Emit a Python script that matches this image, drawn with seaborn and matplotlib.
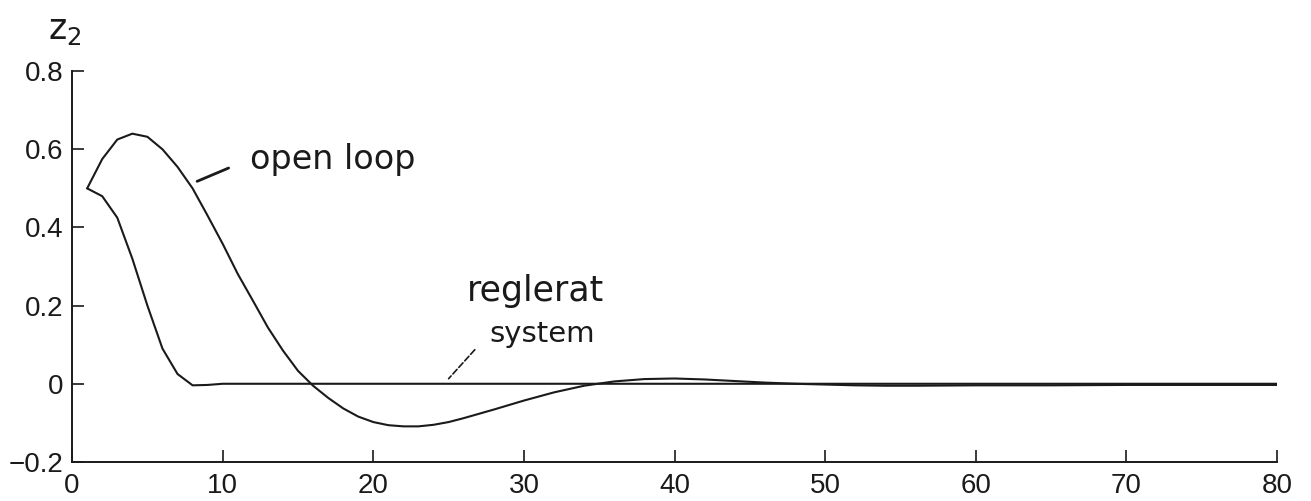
import numpy as np
import matplotlib
matplotlib.use("Agg")
import matplotlib.pyplot as plt
import seaborn as sns
import pandas as pd

#---values
t_open = [1, 2, 3, 4, 5, 6, 7, 8, 9, 10, 11, 12, 13, 14, 15, 16, 17, 18, 19, 20,
          21, 22, 23, 24, 25, 26, 28, 30, 32, 34, 36, 38, 40, 42, 44, 46, 48, 50,
          52, 54, 56, 60, 65, 70, 75, 80]
z_open = [0.5, 0.575, 0.625, 0.64, 0.632, 0.6, 0.555, 0.5, 0.43, 0.358, 0.281,
          0.213, 0.144, 0.085, 0.033, -0.005, -0.036, -0.063, -0.084, -0.098,
          -0.106, -0.109, -0.109, -0.105, -0.098, -0.088, -0.066, -0.043, -0.022,
          -0.005, 0.006, 0.012, 0.0135, 0.011, 0.007, 0.003, 0.0, -0.002, -0.004,
          -0.005, -0.005, -0.004, -0.004, -0.003, -0.003, -0.003]

t_closed = [1, 2, 3, 4, 5, 6, 7, 8, 9, 10, 80]
z_closed = [0.5, 0.48, 0.425, 0.32, 0.2, 0.09, 0.025, -0.004, -0.003, 0.0, 0.0]

x_ticks = [0, 10, 20, 30, 40, 50, 60, 70, 80]
y_ticks = [-0.2, 0, 0.2, 0.4, 0.6, 0.8]
y_ticklabels = ['\u22120.2', '0', '0.2', '0.4', '0.6', '0.8']

df = pd.concat([
    pd.DataFrame({'t': t_open, 'z2': z_open, 'case': 'open loop'}),
    pd.DataFrame({'t': t_closed, 'z2': z_closed, 'case': 'reglerat system'}),
])

sns.set_style('ticks')
plt.rcParams['font.family'] = ['Liberation Sans', 'DejaVu Sans']

fig = plt.figure(figsize=(13.11, 5.01), dpi=100)
ax = fig.add_axes([0.055, 0.078, 0.919, 0.780])

sns.lineplot(data=df, x='t', y='z2', hue='case', units='case', estimator=None,
             palette=['#1a1a1a', '#1a1a1a'], linewidth=1.5, legend=False,
             sort=False, ax=ax)

ax.set_xlim(0, 80)
ax.set_ylim(-0.2, 0.8)
ax.set_xticks(x_ticks)
ax.set_xticklabels([str(v) for v in x_ticks])
ax.set_yticks(y_ticks)
ax.set_yticklabels(y_ticklabels)
ax.set_xlabel('')
ax.set_ylabel('')
sns.despine(ax=ax)
for s in ['left', 'bottom']:
    ax.spines[s].set_linewidth(1.4)
    ax.spines[s].set_color('#1a1a1a')
ax.tick_params(axis='both', direction='in', length=8.5, width=1.2,
               labelsize=20, colors='#1a1a1a')
ax.tick_params(axis='x', pad=8)
ax.tick_params(axis='y', pad=6)

# handwritten notes
hand = dict(family='DejaVu Sans', color='#1a1a1a')
ax.text(-1.6, 0.905, 'z$_2$', fontsize=25, ha='left', va='center',
        clip_on=False, **hand)
ax.annotate('open loop', xy=(8.3, 0.518), xytext=(11.8, 0.575),
            fontsize=24, va='center', ha='left',
            arrowprops=dict(arrowstyle='-', color='#1a1a1a', lw=2.0,
                            relpos=(0, 0.5), shrinkA=14, shrinkB=0), **hand)
ax.text(26.2, 0.238, 'reglerat', fontsize=25, va='center', ha='left', **hand)
ax.annotate('system', xy=(25.0, 0.013), xytext=(27.7, 0.128),
            fontsize=21, va='center', ha='left',
            arrowprops=dict(arrowstyle='-', color='#1a1a1a', lw=1.2,
                            linestyle='--', relpos=(0, 0.5),
                            shrinkA=12, shrinkB=0), **hand)

fig.savefig('out.png', dpi=100)
